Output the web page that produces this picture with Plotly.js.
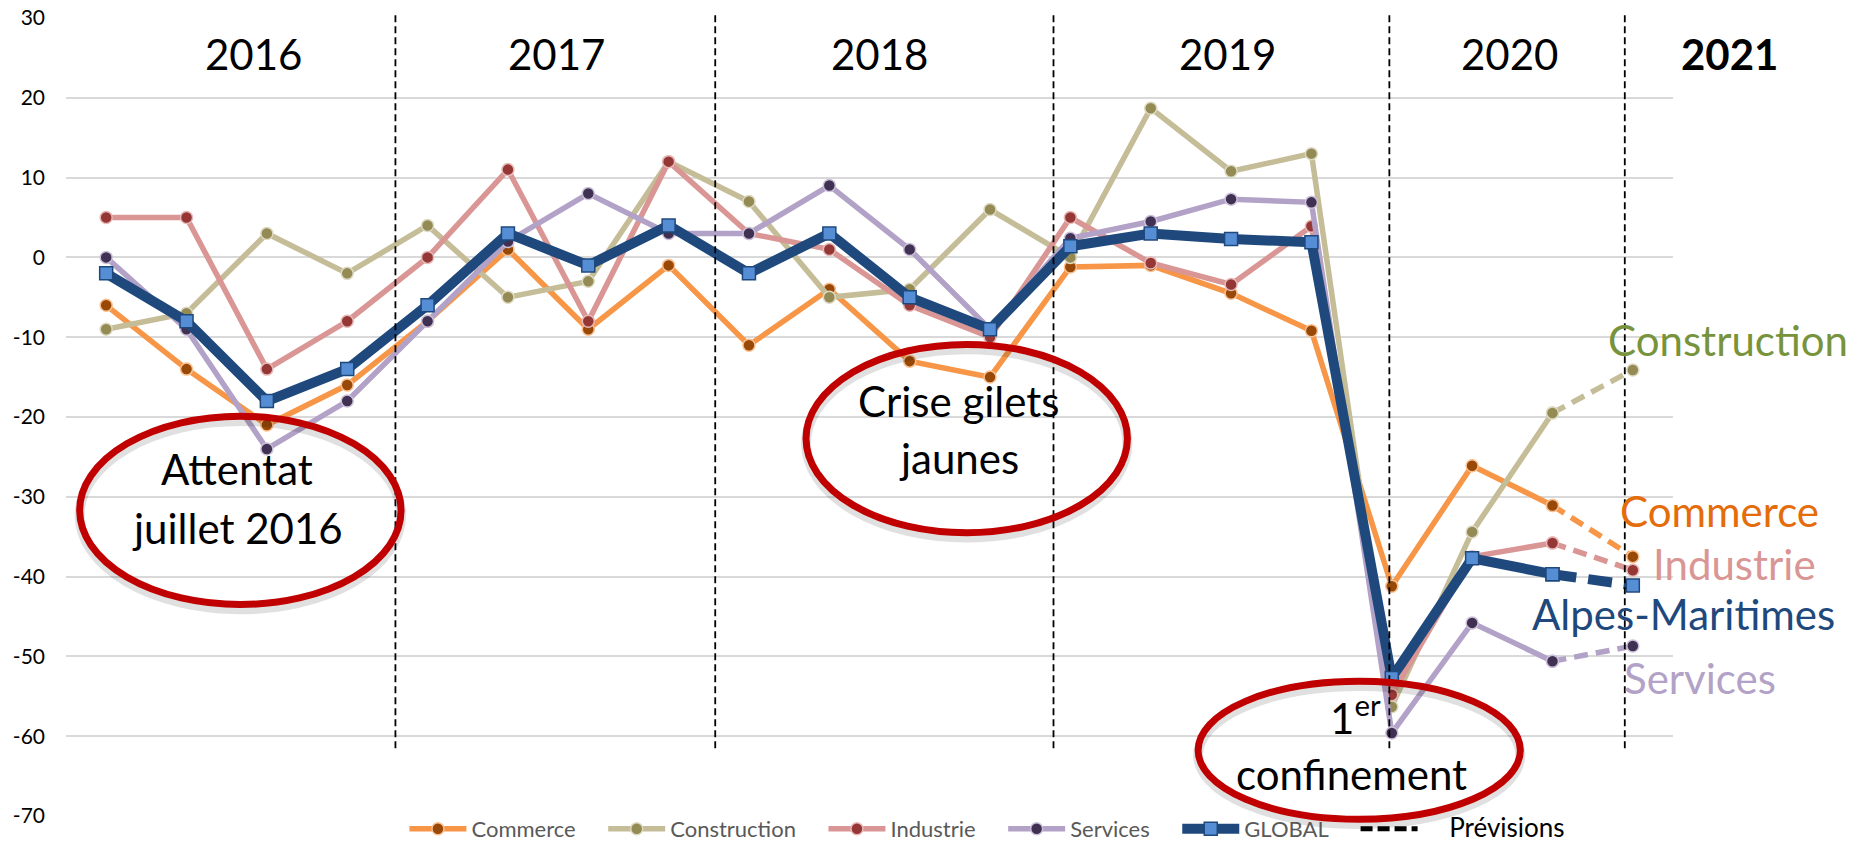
<!DOCTYPE html>
<html>
<head>
<meta charset="utf-8">
<script src="https://cdn.plot.ly/plotly-3.0.1.min.js"></script>
<style>
  html, body { margin: 0; padding: 0; background: #fff; }
  #myGraph { width: 1857px; height: 843px; }
</style>
</head>
<body>
<div id="myGraph"></div>
<script>
/* ===== données : solde d'opinion par trimestre ===== */
let quarters = ['2016 T1', '2016 T2', '2016 T3', '2016 T4',
                '2017 T1', '2017 T2', '2017 T3', '2017 T4',
                '2018 T1', '2018 T2', '2018 T3', '2018 T4',
                '2019 T1', '2019 T2', '2019 T3', '2019 T4',
                '2020 T1', '2020 T2', '2020 T3', '2021 T1'];

let commerce     = [-6, -14, -21, -16, -8, 1, -9, -1, -11, -4, -13, -15, -1.2, -1, -4.5, -9.2, -41.2, -26.1, -31.1, -37.5];
let construction = [-9, -7, 3, -2, 4, -5, -3, 12, 7, -5, -4, 6, 0, 18.7, 10.8, 13, -56.3, -34.4, -19.5, -14.1];
let industrie    = [5, 5, -14, -8, 0, 11, -8, 12, 3, 1, -6, -10, 5, -0.7, -3.4, 3.9, -54.8, -37.5, -35.8, -39.2];
let services     = [0, -9, -24, -18, -8, 2, 8, 3, 3, 9, 1, -9, 2.4, 4.5, 7.3, 6.9, -59.6, -45.8, -50.6, -48.7];
let global       = [-2, -8, -18, -14, -6, 3, -1, 4, -2, 3, -5, -9, 1.4, 3, 2.3, 1.9, -52.7, -37.7, -39.7, -41.1];

let lastObserved = 18;   // 2020 T3, ensuite prévision

let yTickVals = [-70, -60, -50, -40, -30, -20, -10, 0, 10, 20, 30];
let yTickText = ['-70', '-60', '-50', '-40', '-30', '-20', '-10', '0', '10', '20', '30'];

let yearLabels = ['2016', '2017', '2018', '2019', '2020', '2021'];

/* ===== positions : index de trimestre -> coordonnées papier ===== */
let xRange = [-0.5, 19.5];
let yRange = [-70, 30];
function px(c) { return (c - xRange[0]) / (xRange[1] - xRange[0]); }
function py(v) { return (v - yRange[0]) / (yRange[1] - yRange[0]); }

let myGraph = document.getElementById('myGraph');

let pad = '\u00a0\u00a0\u00a0\u00a0';  // espace entre les entrées de légende

// style de chaque série
let styles = [
    { name: 'Commerce',     y: commerce,     line: '#F79646', fill: '#984807', edge: '#FAC090', width: 5.5, symbol: 'circle', size: 12, dash: '14px,8px' },
    { name: 'Construction', y: construction, line: '#C4BD97', fill: '#948A54', edge: '#DDD9C3', width: 5.5, symbol: 'circle', size: 12, dash: '14px,8px' },
    { name: 'Industrie',    y: industrie,    line: '#D99694', fill: '#953735', edge: '#E6B9B8', width: 5.5, symbol: 'circle', size: 12, dash: '14px,8px' },
    { name: 'Services',     y: services,     line: '#B3A2C7', fill: '#403152', edge: '#CCC1DA', width: 5.5, symbol: 'circle', size: 12, dash: '14px,8px' },
    { name: 'GLOBAL',       y: global,       line: '#1F497D', fill: '#558ED5', edge: '#1F497D', width: 10,  symbol: 'square', size: 13, dash: '24px,12px' }
];

let data = [];
styles.forEach(function (s) {
    let marker = { symbol: s.symbol, size: s.size, color: s.fill, line: { color: s.edge, width: 1.5 } };
    // partie observée (trait plein)
    data.push({
        type: 'scatter', mode: 'lines+markers', name: s.name + pad,
        x: quarters,
        y: s.y.map(function (v, i) { return i <= lastObserved ? v : null; }),
        line: { color: s.line, width: s.width },
        marker: marker
    });
    // prévision (pointillés)
    data.push({
        type: 'scatter', mode: 'lines+markers', name: s.name, showlegend: false,
        x: quarters,
        y: s.y.map(function (v, i) { return i >= lastObserved ? v : null; }),
        line: { color: s.line, width: s.width, dash: s.dash },
        marker: marker
    });
});

// entrée de légende "Prévisions"
data.push({
    type: 'scatter', mode: 'lines',
    name: '<span style="font-size:26px;fill:#000000">\u00a0\u00a0\u00a0\u00a0Prévisions</span>',
    x: [quarters[0]], y: [null],
    line: { color: '#000000', width: 5, dash: '12px,5px' }
});

/* ===== textes ===== */
let big = { family: 'Lato, sans-serif', size: 42, color: '#000000' };
function label(text, c, v, extra) {
    let a = { xref: 'paper', yref: 'paper', x: px(c), y: py(v), text: text, showarrow: false,
              xanchor: 'center', yanchor: 'middle', font: big };
    return Object.assign(a, extra || {});
}

let yearPos = [1.83, 5.61, 9.63, 13.95, 17.46, 20.2];
let annotations = yearLabels.map(function (t, i) {
    return label(i === yearLabels.length - 1 ? '<b>' + t + '</b>' : t, yearPos[i], 25.5);
});

annotations.push(label('Attentat', 1.63, -26.5));
annotations.push(label('juillet 2016', 1.63, -33.9));
annotations.push(label('Crise gilets', 10.61, -18));
annotations.push(label('jaunes', 10.61, -25.2));
annotations.push(label('1<sup>er</sup>', 15.55, -57.4));
annotations.push(label('confinement', 15.5, -64.7));

function side(text, c, v, color) {
    return label(text, c, v, { xanchor: 'left', font: { family: 'Lato, sans-serif', size: 42, color: color } });
}
annotations.push(side('Construction', 18.66, -10.3, '#77933C'));
annotations.push(side('Commerce', 18.82, -31.8, '#E46C0A'));
annotations.push(side('Industrie', 19.23, -38.4, '#D99694'));
annotations.push(side('Alpes-Maritimes', 17.72, -44.7, '#1F497D'));
annotations.push(side('Services', 18.87, -52.7, '#B3A2C7'));

/* ===== formes : séparateurs d'années et ellipses ===== */
let shapes = [];
[3.6, 7.58, 11.79, 15.97, 18.9].forEach(function (c) {
    shapes.push({ type: 'line', xref: 'paper', yref: 'paper', layer: 'above',
                  x0: px(c), x1: px(c), y0: py(-61.5), y1: py(30.6),
                  line: { color: '#000000', width: 1.8, dash: '7px,4px' } });
});

let ellipses = [
    [-0.33, 3.67, -43.5, -19.9],
    [8.71, 12.71, -34.5, -10.9],
    [13.59, 17.6, -70.4, -53.1]
];
let shadowShift = 0.6; // ombre portée sous l'ellipse
ellipses.forEach(function (e) {
    shapes.push({ type: 'circle', xref: 'paper', yref: 'paper', layer: 'above',
                  x0: px(e[0]), x1: px(e[1]), y0: py(e[2] - shadowShift), y1: py(e[3] - shadowShift),
                  line: { color: 'rgba(0,0,0,0.12)', width: 10 } });
    shapes.push({ type: 'circle', xref: 'paper', yref: 'paper', layer: 'above',
                  x0: px(e[0]), x1: px(e[1]), y0: py(e[2]), y1: py(e[3]),
                  line: { color: '#C00000', width: 7 } });
});

let layout = {
    width: 1857,
    height: 843,
    margin: { l: 66, r: 184, t: 18, b: 27, autoexpand: false },
    paper_bgcolor: '#ffffff',
    plot_bgcolor: '#ffffff',
    font: { family: 'Lato, sans-serif', size: 21, color: '#000000' },
    xaxis: {
        type: 'category',
        range: xRange,
        showgrid: false, zeroline: false, showline: false,
        showticklabels: false, ticks: ''
    },
    yaxis: {
        range: yRange,
        tickvals: yTickVals,
        ticktext: yTickText,
        gridcolor: '#D9D9D9', gridwidth: 2,
        zeroline: false, showline: false, ticks: '',
        ticklabelstandoff: 20,
        tickfont: { family: 'Lato, sans-serif', size: 21, color: '#000000' }
    },
    showlegend: true,
    legend: {
        orientation: 'h',
        x: 0.2106, xanchor: 'left',
        y: 0.01, yanchor: 'top',
        itemwidth: 57,
        font: { family: 'Lato, sans-serif', size: 22, color: '#595959' },
        bgcolor: 'rgba(0,0,0,0)'
    },
    annotations: annotations,
    shapes: shapes,
    hovermode: false
};

Plotly.newPlot(myGraph, data, layout, { displayModeBar: false, staticPlot: true });
</script>
</body>
</html>
